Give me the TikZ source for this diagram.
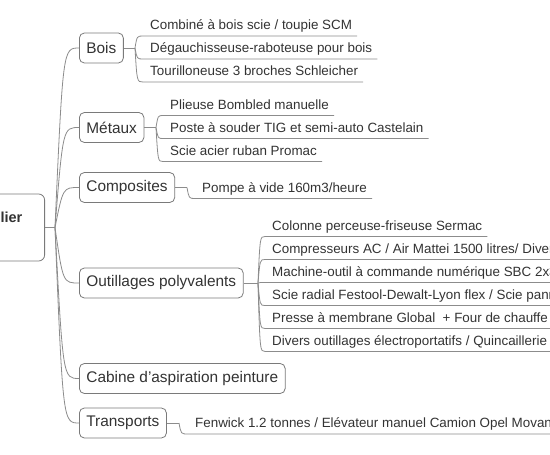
\documentclass[tikz,border=0pt]{standalone}
\usepackage{fontspec}
\setmainfont{Liberation Sans}[Ligatures=ResetAll]
\usetikzlibrary{calc}
\definecolor{txt}{HTML}{333333}
\definecolor{ln}{HTML}{8C8C8C}
\definecolor{bd}{HTML}{7A7A7A}
\begin{document}
\begin{tikzpicture}[x=1pt,y=-1pt,
  topic/.style={draw=bd, line width=0.8pt, rounded corners=5pt, minimum height=30pt,
    inner xsep=7pt, inner ysep=0pt, anchor=west, text=txt, font=\fontsize{15.4}{18}\selectfont},
  leaf/.style={anchor=south west, inner sep=0pt, text=txt, font=\fontsize{13.4}{16}\selectfont,
    text depth=6.2pt, text height=10pt,
    execute at begin node=\hspace*{7pt}, execute at end node=\hspace*{5pt}},
  conn/.style={draw=ln, line width=0.8pt},
  rootbox/.style={draw=bd, line width=0.8pt, rounded corners=6pt, minimum width=160pt,
    minimum height=67pt, anchor=east, inner sep=0pt},
  roottext/.style={anchor=east, inner sep=0pt, text=txt, font=\bfseries\fontsize{14.5}{17}\selectfont}]
\useasboundingbox (0,0) rectangle (550,455);
\clip (0,0) rectangle (550,455);
\fill[white] (0,0) rectangle (550,455);

% root
\node[rootbox] (root) at (45,227.5) {};
\node[roottext] (rootlabel) at (22.5,217) {Atelier};
\coordinate (j0) at (55,227.5);

% main topics
\node[topic] (bois) at (79,48) {Bois};
\node[topic] (metaux) at (79,127.5) {Métaux};
\node[topic] (compo) at (79,187.5) {Composites};
\node[topic] (outil) at (79,283) {Outillages polyvalents};
\node[topic] (cabine) at (79,378.5) {Cabine d'aspiration peinture};
\node[topic] (transp) at (79,423) {Transports};

\draw[conn] (root.east) -- (j0);
\foreach \m in {bois,metaux,compo,outil,cabine,transp}
  \draw[conn] (j0) .. controls ($(j0 |- \m.west)+(8,0)$) .. (\m.west);

% leaves: Bois
\coordinate (jb) at (135,48);
\node[leaf] (b1) at (143,36) {Combiné à bois scie / toupie SCM};
\node[leaf] (b2) at (143,59) {Dégauchisseuse-raboteuse pour bois};
\node[leaf] (b3) at (143,82) {Tourilloneuse 3 broches Schleicher};
% leaves: Metaux
\coordinate (jm) at (156,127.5);
\node[leaf] (m1) at (163,115.5) {Plieuse Bombled manuelle};
\node[leaf] (m2) at (163,138.5) {Poste à souder TIG et semi-auto Castelain};
\node[leaf] (m3) at (163,161.5) {Scie acier ruban Promac};
% leaves: Composites
\coordinate (jc) at (187,187.5);
\node[leaf] (c1) at (195,198.5) {Pompe à vide 160m3/heure};
% leaves: Outillages
\coordinate (jo) at (258,283);
\node[leaf] (o1) at (265,236.5) {Colonne perceuse-friseuse Sermac};
\node[leaf] (o2) at (265,259.5) {Compresseurs AC / Air Mattei 1500 litres/ Divers};
\node[leaf] (o3) at (265,282.5) {Machine-outil à commande numérique SBC 2x3};
\node[leaf] (o4) at (265,305.5) {Scie radial Festool-Dewalt-Lyon flex / Scie panneaux};
\node[leaf] (o5) at (265,328.5) {Presse à membrane Global\ \ + Four de chauffe};
\node[leaf] (o6) at (265,351.5) {Divers outillages électroportatifs / Quincaillerie};
% leaves: Transports
\coordinate (jt) at (179,423);
\node[leaf] (t1) at (188,434) {Fenwick 1.2 tonnes / Elévateur manuel Camion Opel Movano};

\draw[conn] (bois.east) -- (jb);
\draw[conn] (metaux.east) -- (jm);
\draw[conn] (compo.east) -- (jc);
\draw[conn] (outil.east) -- (jo);
\draw[conn] (transp.east) -- (jt);

\foreach \j/\l in {jb/b1,jb/b2,jb/b3,jm/m1,jm/m2,jm/m3,jc/c1,jo/o1,jo/o2,jo/o3,jo/o4,jo/o5,jo/o6,jt/t1}
  \draw[conn] (\j) .. controls ($(\j |- \l.south west)+(2,0)$) .. (\l.south west) -- (\l.south east);
\end{tikzpicture}
\end{document}
